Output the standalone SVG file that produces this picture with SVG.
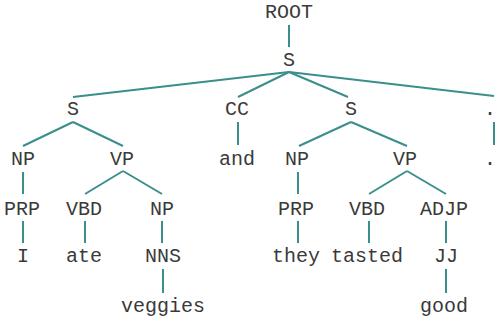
<svg xmlns="http://www.w3.org/2000/svg" width="497" height="322" viewBox="0 0 497 322">
<style>
text{font-family:"Liberation Mono","Courier New",monospace;font-size:20px;fill:#3a3a3a;text-anchor:middle}
#edges line{stroke:#3a8f8c;stroke-width:2;stroke-linecap:butt}
</style>
<rect width="497" height="322" fill="#ffffff"/>
<g id="edges">
<line x1="289" y1="25" x2="289" y2="47"/>
<line x1="289" y1="72" x2="73" y2="97"/>
<line x1="289" y1="72" x2="238" y2="97"/>
<line x1="289" y1="72" x2="348" y2="97"/>
<line x1="289" y1="72" x2="494" y2="96"/>
<line x1="73" y1="122" x2="23" y2="146"/>
<line x1="73" y1="122" x2="123" y2="146"/>
<line x1="238" y1="122" x2="238" y2="145"/>
<line x1="351" y1="122" x2="299" y2="146"/>
<line x1="351" y1="122" x2="407" y2="146"/>
<line x1="494" y1="122" x2="494" y2="145"/>
<line x1="23" y1="172" x2="23" y2="194"/>
<line x1="123" y1="171" x2="85" y2="194"/>
<line x1="123" y1="171" x2="162" y2="194"/>
<line x1="298" y1="172" x2="298" y2="194"/>
<line x1="407" y1="171" x2="369" y2="194"/>
<line x1="407" y1="171" x2="446" y2="194"/>
<line x1="23" y1="221" x2="23" y2="243"/>
<line x1="85" y1="221" x2="85" y2="243"/>
<line x1="162" y1="221" x2="162" y2="243"/>
<line x1="298" y1="221" x2="298" y2="243"/>
<line x1="369" y1="221" x2="369" y2="243"/>
<line x1="446" y1="221" x2="446" y2="243"/>
<line x1="163" y1="269" x2="163" y2="293"/>
<line x1="446" y1="269" x2="446" y2="293"/>
</g>
<g id="n-root"><text x="289" y="18">ROOT</text></g>
<g id="n-s0"><text x="289" y="66">S</text></g>
<g id="n-s1"><text x="73" y="115">S</text></g>
<g id="n-cc"><text x="237" y="115">CC</text></g>
<g id="n-s2"><text x="351" y="115">S</text></g>
<g id="n-punct"><text x="490" y="115">.</text></g>
<g id="n-np1"><text x="23" y="165">NP</text></g>
<g id="n-vp1"><text x="122" y="165">VP</text></g>
<g id="n-and"><text x="237" y="165">and</text></g>
<g id="n-np2"><text x="297" y="165">NP</text></g>
<g id="n-vp2"><text x="405" y="165">VP</text></g>
<g id="n-dot"><text x="490" y="165">.</text></g>
<g id="n-prp1"><text x="22" y="215">PRP</text></g>
<g id="n-vbd1"><text x="84" y="215">VBD</text></g>
<g id="n-np3"><text x="162" y="215">NP</text></g>
<g id="n-prp2"><text x="296" y="215">PRP</text></g>
<g id="n-vbd2"><text x="367" y="215">VBD</text></g>
<g id="n-adjp"><text x="444" y="215">ADJP</text></g>
<g id="n-i"><text x="23" y="262">I</text></g>
<g id="n-ate"><text x="84" y="262">ate</text></g>
<g id="n-nns"><text x="163" y="262">NNS</text></g>
<g id="n-they"><text x="296" y="262">they</text></g>
<g id="n-tasted"><text x="367" y="262">tasted</text></g>
<g id="n-jj"><text x="446" y="262">JJ</text></g>
<g id="n-veggies"><text x="163" y="312">veggies</text></g>
<g id="n-good"><text x="444" y="312">good</text></g>
</svg>
